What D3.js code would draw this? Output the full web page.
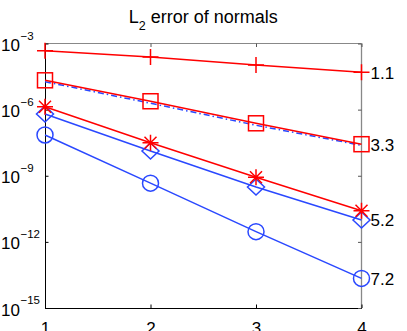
<!DOCTYPE html>
<html>
<head>
<meta charset="utf-8">
<script src="https://cdn.jsdelivr.net/npm/d3@7"></script>
<style>
  body { margin: 0; background: #fff; }
  text { font-family: "Liberation Sans", Arial, Helvetica, sans-serif; }
</style>
</head>
<body>
<svg id="chart" width="407" height="331"></svg>
<script>
// levels on the x axis
levels = [1, 2, 3, 4];
// error per level, one list per curve
plusErr    = [4.7e-4, 2.45e-4, 1.06e-4, 4.9e-5];
squareErr  = [2.14e-5, 2.4e-6, 2.4e-7, 2.7e-8];
dashErr    = [1.85e-5, 1.95e-6, 1.95e-7, 2.4e-8];
starErr    = [1.35e-6, 3.16e-8, 8.5e-10, 2.57e-11];
diamondErr = [6.3e-7, 1.32e-8, 3.1e-10, 9.8e-12];
circleErr  = [7.1e-8, 4.6e-10, 2.9e-12, 2.2e-14];
// slopes written at the right end
slopeLabels = ["1.1", "3.3", "5.2", "7.2"];
xTicks = [1, 2, 3, 4];
yTickExp = [-3, -6, -9, -12, -15];

var W = 407, H = 331;
var mLeft = 45, mRight = 361.5, mTop = 43.5, mBottom = 308;
var red = "#ff0000", blue = "#2a48ff";

var svg = d3.select("#chart");
var x = d3.scaleLinear().domain([1, 4]).range([mLeft, mRight]);
var y = d3.scaleLog().domain([1e-15, 1e-3]).range([mBottom, mTop]);

// box, left/bottom black, top/right grey
svg.append("line").attr("x1", mLeft).attr("x2", mRight).attr("y1", mTop).attr("y2", mTop)
    .attr("stroke", "#888").attr("stroke-width", 1);
svg.append("line").attr("x1", mRight).attr("x2", mRight).attr("y1", mTop).attr("y2", mBottom)
    .attr("stroke", "#888").attr("stroke-width", 1.3);

var xAxis = svg.append("g").attr("transform", "translate(0," + mBottom + ")")
    .call(d3.axisBottom(x).tickValues(xTicks).tickFormat(d3.format("d")).tickSizeInner(-3.5).tickSizeOuter(0).tickPadding(14));
var xTop = svg.append("g").attr("transform", "translate(0," + mTop + ")")
    .call(d3.axisTop(x).tickValues(xTicks).tickFormat("").tickSizeInner(-3.5).tickSizeOuter(0));
var yAxis = svg.append("g").attr("transform", "translate(" + mLeft + ",0)")
    .call(d3.axisLeft(y).tickValues(yTickExp.map(e => Math.pow(10, e))).tickFormat("").tickSizeInner(-3.5).tickSizeOuter(0));
var yRight = svg.append("g").attr("transform", "translate(" + mRight + ",0)")
    .call(d3.axisRight(y).tickValues(yTickExp.map(e => Math.pow(10, e))).tickFormat("").tickSizeInner(-3.5).tickSizeOuter(0));

xAxis.select(".domain").attr("stroke", "#000");
yAxis.select(".domain").attr("stroke", "#000");
xTop.select(".domain").remove();
yRight.select(".domain").remove();
xTop.selectAll(".tick line").attr("stroke", "#555");
yRight.selectAll(".tick line").attr("stroke", "#555");
xAxis.selectAll("text").attr("font-size", 17).attr("fill", "#000")
    .attr("font-family", "Liberation Sans, Arial, sans-serif");

// y labels as 10 with a superscript
yTickExp.forEach(function(e) {
    var t = svg.append("text").attr("x", 1).attr("y", y(Math.pow(10, e)) + 7.5)
        .attr("font-size", 17).attr("fill", "#000");
    t.append("tspan").text("10");
    t.append("tspan").attr("dy", -11.5).attr("dx", 0.5).attr("font-size", 11.5).text("\u2212" + (-e));
});

// title
var title = svg.append("text").attr("x", (mLeft + mRight) / 2).attr("y", 23)
    .attr("text-anchor", "middle").attr("font-size", 18).attr("fill", "#000");
title.append("tspan").text("L");
title.append("tspan").attr("dy", 7).attr("font-size", 12.5).text("2");
title.append("tspan").attr("dy", -7).text(" error of normals");

var line = d3.line().x((d, i) => x(levels[i])).y(d => y(d));

function drawSeries(vals, color, marker, dash) {
    svg.append("path").attr("d", line(vals)).attr("fill", "none")
        .attr("stroke", color).attr("stroke-width", 1.5)
        .attr("stroke-dasharray", dash || null);
    if (!marker) return;
    var g = svg.append("g").attr("stroke", color).attr("stroke-width", 1.5).attr("fill", "none");
    vals.forEach(function(v, i) {
        var cx = x(levels[i]), cy = y(v);
        var m = g.append("g").attr("transform", "translate(" + cx + "," + cy + ")");
        if (marker == "plus") {
            m.append("path").attr("d", "M-8,0H8M0,-8V8");
        } else if (marker == "square") {
            m.append("rect").attr("x", -7.5).attr("y", -7.5).attr("width", 15).attr("height", 15);
        } else if (marker == "star") {
            m.append("path").attr("d", "M-8,0H8M0,-8V8M-6,-6L6,6M-6,6L6,-6");
        } else if (marker == "diamond") {
            m.append("path").attr("d", "M0,-8L8.5,0L0,8L-8.5,0Z");
        } else if (marker == "circle") {
            m.append("circle").attr("r", 8);
        }
    });
}

drawSeries(circleErr, blue, "circle");
drawSeries(diamondErr, blue, "diamond");
drawSeries(dashErr, blue, null, "6,3,1.5,3");
drawSeries(squareErr, red, "square");
drawSeries(starErr, red, "star");
drawSeries(plusErr, red, "plus");

// slope labels next to the last points
var ends = [plusErr[3], squareErr[3], diamondErr[3], circleErr[3]];
slopeLabels.forEach(function(s, i) {
    svg.append("text").attr("x", x(4) + 9).attr("y", y(ends[i]) + 6.3)
        .attr("font-size", 17).attr("fill", "#000").text(s);
});
</script>
</body>
</html>
